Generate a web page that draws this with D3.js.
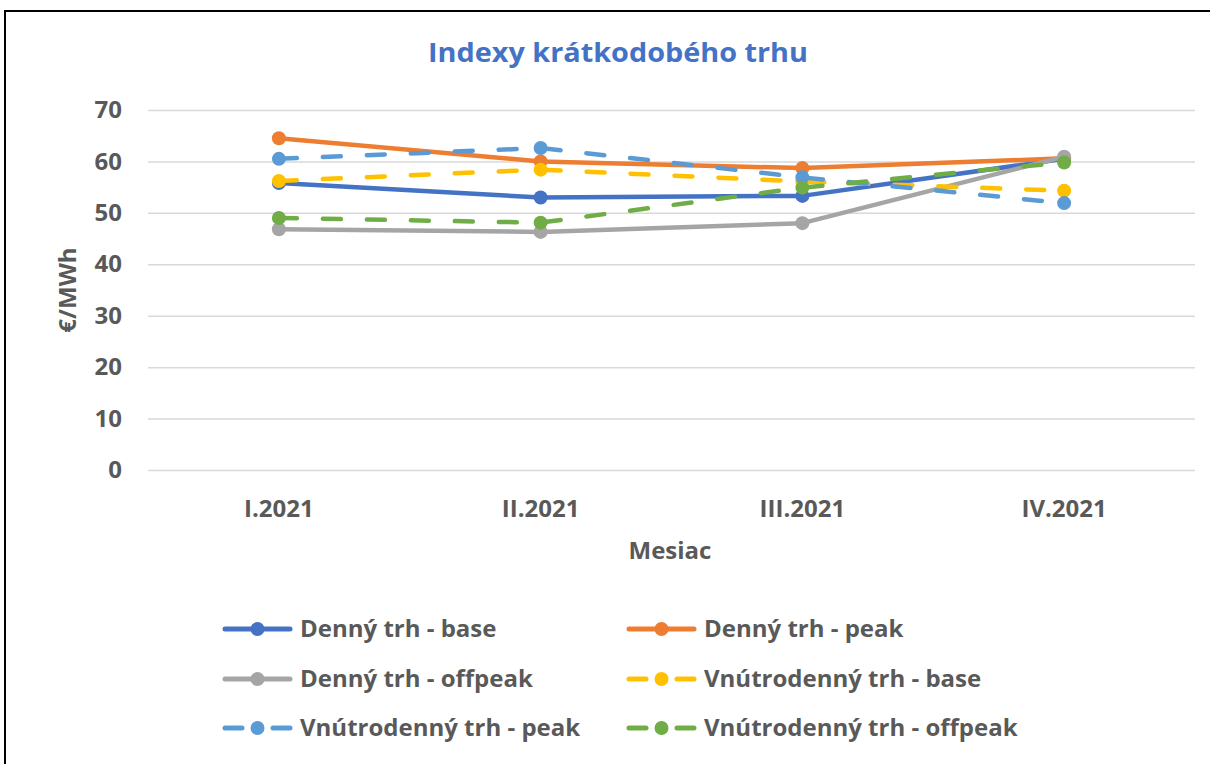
<!DOCTYPE html>
<html>
<head>
<meta charset="utf-8">
<script src="https://cdn.jsdelivr.net/npm/d3@7"></script>
<style>
	body { margin: 0; background: #fff; }
	text { font-family: "Open Sans", sans-serif; }
</style>
</head>
<body>
<div id="chart"></div>
<script>
// data
var months = ['I.2021', 'II.2021', 'III.2021', 'IV.2021'];
var yTicks = [0, 10, 20, 30, 40, 50, 60, 70];

var dennyBase       = [55.8, 53.0, 53.3, 60.5];
var dennyPeak       = [64.5, 60.0, 58.7, 60.6];
var dennyOffpeak    = [46.8, 46.3, 48.0, 60.9];
var vnutroBase      = [56.2, 58.4, 56.1, 54.3];
var vnutroPeak      = [60.5, 62.6, 56.9, 51.9];
var vnutroOffpeak   = [49.0, 48.1, 54.9, 59.8];

var seriesNames = ['Denný trh - base', 'Denný trh - peak', 'Denný trh - offpeak',
	'Vnútrodenný trh - base', 'Vnútrodenný trh - peak', 'Vnútrodenný trh - offpeak'];
var seriesColors = ['#4472C4', '#ED7D31', '#A5A5A5', '#FFC000', '#5B9BD5', '#70AD47'];
var seriesDashed = [false, false, false, true, true, true];
var seriesValues = [dennyBase, dennyPeak, dennyOffpeak, vnutroBase, vnutroPeak, vnutroOffpeak];

var width = 1210, height = 764;
var margin = {top: 110, right: 15, bottom: 294, left: 148};
var viewWidth  = width - margin.left - margin.right,
	viewHeight = height - margin.top - margin.bottom;
var labelFont = 24, labelColor = '#595959';

var svg = d3.select('#chart').append('svg')
	.attr('width', width)
	.attr('height', height);

// chart border
svg.append('rect')
	.attr('x', 5).attr('y', 11)
	.attr('width', 1220).attr('height', 800)
	.attr('fill', '#fff')
	.attr('stroke', '#000')
	.attr('stroke-width', 2);

svg.append('text')
	.attr('x', 618).attr('y', 62)
	.attr('text-anchor', 'middle')
	.attr('font-size', 27).attr('font-weight', 'bold')
	.attr('textLength', 380).attr('lengthAdjust', 'spacingAndGlyphs')
	.attr('fill', '#4472C4')
	.text('Indexy krátkodobého trhu');

var vis = svg.append('g')
	.attr('transform', 'translate(' + margin.left + ',' + margin.top + ')');

var x = d3.scaleBand().domain(months).range([0, viewWidth]);
var y = d3.scaleLinear().domain([0, 70]).range([viewHeight, 0]);

// gridlines + y labels
var yAxis = d3.axisLeft(y).tickValues(yTicks).tickSize(-viewWidth).tickPadding(26);
var gy = vis.append('g').call(yAxis);
gy.select('.domain').remove();
gy.selectAll('line').attr('stroke', '#D9D9D9').attr('stroke-width', 1.5);
gy.selectAll('text')
	.attr('font-size', labelFont).attr('font-weight', 'bold')
	.attr('fill', labelColor)
	.attr('font-family', '"Open Sans", sans-serif');

// x axis labels
var xAxis = d3.axisBottom(x).tickSize(0).tickPadding(30);
var gx = vis.append('g').attr('transform', 'translate(0,' + viewHeight + ')').call(xAxis);
gx.select('.domain').remove();
gx.selectAll('text')
	.attr('font-size', labelFont).attr('font-weight', 'bold')
	.attr('fill', labelColor)
	.attr('font-family', '"Open Sans", sans-serif');

// axis titles
svg.append('text')
	.attr('x', 670).attr('y', 559)
	.attr('text-anchor', 'middle')
	.attr('font-size', labelFont).attr('font-weight', 'bold')
	.attr('fill', labelColor)
	.text('Mesiac');
svg.append('text')
	.attr('transform', 'translate(76,290) rotate(-90)')
	.attr('text-anchor', 'middle')
	.attr('font-size', labelFont).attr('font-weight', 'bold')
	.attr('fill', labelColor)
	.text('€/MWh');

var line = d3.line()
	.x(function(d, i) { return x(months[i]) + x.bandwidth() / 2; })
	.y(function(d) { return y(d); });

var series = vis.selectAll('g.series')
	.data(seriesValues)
	.enter().append('g')
	.attr('class', 'series');

series.append('path')
	.attr('d', function(d) { return line(d); })
	.attr('fill', 'none')
	.attr('stroke', function(d, i) { return seriesColors[i]; })
	.attr('stroke-width', 4.5)
	.attr('stroke-linecap', 'round')
	.attr('stroke-linejoin', 'round')
	.attr('stroke-dasharray', function(d, i) { return seriesDashed[i] ? '18,26' : null; });

series.each(function(vals, si) {
	d3.select(this).selectAll('circle')
		.data(vals)
		.enter().append('circle')
		.attr('cx', function(d, i) { return x(months[i]) + x.bandwidth() / 2; })
		.attr('cy', function(d) { return y(d); })
		.attr('r', 7)
		.attr('fill', seriesColors[si]);
});

// legend
var legendCols = [222, 626], legendRows = [629, 679, 728];
var legend = svg.selectAll('g.legend')
	.data(seriesNames)
	.enter().append('g')
	.attr('class', 'legend')
	.attr('transform', function(d, i) {
		return 'translate(' + legendCols[i % 2] + ',' + legendRows[Math.floor(i / 2)] + ')';
	});
legend.append('path')
	.attr('d', function(d, i) { return seriesDashed[i] ? 'M3,0H20M51,0H68' : 'M3,0H68'; })
	.attr('stroke', function(d, i) { return seriesColors[i]; })
	.attr('stroke-width', 5)
	.attr('stroke-linecap', 'round');
legend.append('circle')
	.attr('cx', 35.5).attr('r', 7)
	.attr('fill', function(d, i) { return seriesColors[i]; });
legend.append('text')
	.attr('x', 78).attr('dy', '0.35em')
	.attr('font-size', labelFont).attr('font-weight', 'bold')
	.attr('fill', labelColor)
	.text(function(d) { return d; });
</script>
</body>
</html>
